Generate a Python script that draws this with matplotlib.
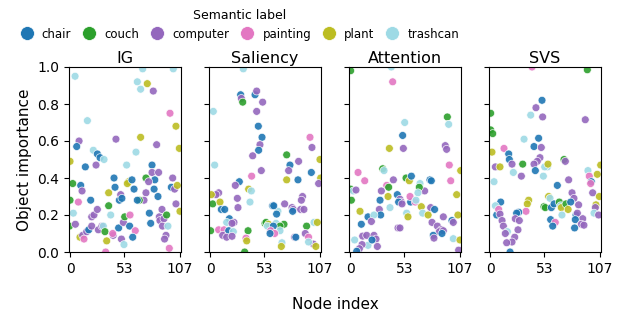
import matplotlib
matplotlib.use("Agg")
import matplotlib.pyplot as plt
from matplotlib.lines import Line2D

label_names = ["chair", "couch", "computer", "painting", "plant", "trashcan"]
label_codes = ["ch", "co", "cp", "pa", "pl", "tr"]
label_colors = ["#1f77b4", "#2ca02c", "#9467bd", "#e377c2", "#bcbd22", "#9edae5"]
panel_titles = ["IG", "Saliency", "Attention", "SVS"]
x_ticks = [0, 53, 107]

ig_idx = [4.9, 16.9, 8.8, 6.5, 0, 2.6, 10.4, 11.7, 0, -0.5, 8.1, 3.2, 5.2, 9.7, 12.3, 13.6, 16.2, 18.2, 14.9, 20.1,
          21.1, 23.3, 26.6, 21.1, 25.3, 22.7, 26.6, 29.2, 33.1, 44.7, 42.8, 43.8, 37.6, 37.6, 39.6, 48, 49.3, 50.5, 27.6, 31,
          32.4, 34, 35.7, 42, 41.5, 47.3, 50, 34.7, 52.5, 51.9, 53.2,
          70.7, 100.5, 65.5, 75.2, 68.7, 81, 97.3, 103.1, 68.7, 84.3, 106.4, 64.2, 55.1, 79.8, 79.8, 86.2, 82.5, 73.9, 76.5, 57,
          55.8, 60.3, 62.3, 81.8, 85.6, 73.9, 72, 67.4, 65.5, 99.9, 98.6, 101.8, 104.4, 103.1, 107, 58.4, 58, 63.5, 61, 77.2,
          78.5, 86.9, 89.5, 87.5, 91.4, 94, 90, 95.3, 93.4, 92, 96.6]
ig_val = [0.95, 0.71, 0.60, 0.57, 0.49, 0.37, 0.36, 0.33, 0.28, 0.14, 0.27, 0.21, 0.15, 0.08, 0.09, 0.07, 0.11, 0.12, 0.46, 0.28,
          0.19, 0.20, 0.23, 0.14, 0.47, 0.55, 0.53, 0.51, 0.50, 0.61, 0.40, 0.35, 0.32, 0.25, 0.20, 0.28, 0.31, 0.29, 0.12, 0.14,
          0.14, 0.11, 0.06, 0.09, 0.10, 0.13, 0.07, 0.0, 0.04, 0.16, 0.19,
          0.99, 0.99, 0.92, 0.91, 0.88, 0.87, 0.75, 0.68, 0.62, 0.58, 0.56, 0.54, 0.47, 0.47, 0.43, 0.43, 0.39, 0.40, 0.38, 0.38,
          0.37, 0.39, 0.34, 0.34, 0.30, 0.32, 0.28, 0.28, 0.28, 0.40, 0.35, 0.34, 0.36, 0.26, 0.22, 0.20, 0.14, 0.115, 0.08, 0.21,
          0.155, 0.19, 0.23, 0.17, 0.18, 0.20, 0.14, 0.14, 0.09, 0.07, 0.02]
ig_lab = ["tr", "tr", "cp", "ch", "pl", "co", "ch", "cp", "co", "co", "pa", "tr", "cp", "pl", "cp", "pa", "cp", "ch", "ch", "ch",
          "cp", "cp", "cp", "cp", "cp", "tr", "ch", "ch", "tr", "cp", "ch", "ch", "pl", "co", "tr", "ch", "cp", "ch", "cp", "cp",
          "tr", "co", "pl", "cp", "pa", "ch", "cp", "pa", "tr", "cp", "co",
          "tr", "tr", "tr", "pl", "tr", "cp", "pa", "pl", "pl", "cp", "pl", "tr", "tr", "ch", "cp", "cp", "ch", "co", "cp", "pl",
          "pl", "ch", "ch", "ch", "ch", "cp", "cp", "co", "ch", "cp", "ch", "cp", "pl", "cp", "pl", "pa", "ch", "pa", "ch", "ch",
          "ch", "cp", "cp", "cp", "cp", "co", "cp", "tr", "cp", "cp", "pa"]

sal_idx = [32.4, 29.8, 30.5, 31.8, 43.8, 45.4, 51.2, 3.2, 45.4, 47, 50.6, 48.6, 47.3, 41.5, 49.9, 4.5, 40.5, 28.5, 24.6, 37.6,
           40.2, 8.4, 5.8, 1.3, 2.6, 26.6, 9.7, 11, 14.3, 27.2, 38.9, 18.8, 16.2, 23.3, 21.4, 0.6, 8.4, 13.6, 18.2, 22.7,
           12.3, 16.2, 21.4, 37, 35, 35.7, 33.7, 53.5,
           97.3, 99.2, 74.6, 86.2, 77.8, 76.5, 107, 98.6, 85.6, 107.7, 105.7, 74.6, 90, 88.9, 60.9, 72.6, 79.8, 81, 80.4, 88.2,
           91.4, 66.1, 64.8, 62, 54.5, 56.9, 55.8, 64.2, 72, 68.1, 68.1, 61.6, 59, 62.9, 58.4, 94, 101.2, 104.4, 92.7, 95.9,
           100.5, 95.9, 103, 82.3, 83.5, 70, 69.4]
sal_val = [0.99, 0.85, 0.83, 0.81, 0.85, 0.87, 0.81, 0.76, 0.76, 0.68, 0.62, 0.58, 0.55, 0.52, 0.44, 0.47, 0.41, 0.38, 0.36, 0.34,
           0.33, 0.32, 0.31, 0.31, 0.26, 0.29, 0.27, 0.23, 0.23, 0.24, 0.27, 0.18, 0.16, 0.16, 0.155, 0.115, 0.12, 0.12, 0.115, 0.11,
           0.09, 0.08, 0.085, 0.115, 0.075, 0.06, 0.0, 0.155,
           0.62, 0.565, 0.525, 0.49, 0.47, 0.44, 0.50, 0.43, 0.39, 0.40, 0.37, 0.39, 0.30, 0.28, 0.25, 0.26, 0.24, 0.23, 0.22, 0.23,
           0.23, 0.22, 0.205, 0.25, 0.16, 0.15, 0.14, 0.155, 0.15, 0.14, 0.115, 0.14, 0.115, 0.10, 0.10, 0.14, 0.16, 0.16, 0.10, 0.08,
           0.043, 0.054, 0.03, 0.08, 0.08, 0.05, 0.03]
sal_lab = ["tr", "ch", "cp", "co", "ch", "cp", "cp", "tr", "cp", "ch", "ch", "cp", "ch", "cp", "cp", "tr", "pa", "ch", "cp", "pl",
           "tr", "cp", "cp", "pl", "co", "cp", "pl", "ch", "ch", "cp", "tr", "ch", "tr", "cp", "cp", "co", "pa", "pa", "ch", "tr",
           "cp", "cp", "cp", "co", "pa", "pl", "co", "co",
           "pa", "cp", "co", "cp", "ch", "cp", "pl", "ch", "ch", "pl", "cp", "pl", "cp", "cp", "ch", "cp", "cp", "cp", "ch", "cp",
           "cp", "tr", "ch", "ch", "co", "pl", "tr", "tr", "co", "co", "tr", "ch", "pa", "pa", "ch", "co", "tr", "pl", "cp", "pa",
           "cp", "tr", "pl", "cp", "ch", "tr", "pl"]

att_idx = [0.6, 40.2, 41.5, 38.3, 7.8, 14.3, 31.8, 33.1, 42.2, 0.6, 3.2, 5.8, 1.3, 35.7, 37.6, 30.5, 37, 29.2, 46, 48.6,
           49.9, 9.7, 28.5, 38.9, 47.3, 29.8, 17.5, 23.3, 20.8, 11, 46.7, 4.5, 12.3, 16.2, 23.3, 25.3, 17.5, 11.7, 9.1, 6.5,
           26.6, 21.4,
           53.2, 51.2, 51.9, 94.7, 96, 92.7, 94, 96.6, 107.7, 98, 54.5, 57.7, 59.7, 77.8, 79.1, 72.6, 68.1, 67.4, 66.1, 103.8,
           59, 58.4, 63.5, 64.2, 50.6, 69.4, 78.5, 82.3, 55.1, 56.4, 70.7, 76, 79.8, 90.8, 105, 99.2, 100.5, 85, 88.9, 87,
           90.8, 89.5, 81, 81.7, 100.5, 107, 105.7, 48.6]
att_val = [0.98, 1.0, 0.92, 0.56, 0.43, 0.385, 0.45, 0.44, 0.39, 0.34, 0.33, 0.335, 0.28, 0.36, 0.35, 0.33, 0.30, 0.28, 0.31, 0.285,
           0.27, 0.22, 0.23, 0.24, 0.27, 0.20, 0.19, 0.20, 0.165, 0.15, 0.13, 0.065, 0.086, 0.09, 0.09, 0.07, 0.036, 0.04, 0.018, 0.004,
           0.03, 0.065,
           0.70, 0.63, 0.56, 0.73, 0.69, 0.575, 0.555, 0.47, 0.44, 0.385, 0.40, 0.385, 0.41, 0.39, 0.385, 0.33, 0.37, 0.35, 0.32, 0.31,
           0.27, 0.30, 0.27, 0.28, 0.26, 0.245, 0.24, 0.23, 0.21, 0.19, 0.21, 0.20, 0.16, 0.19, 0.20, 0.17, 0.16, 0.14, 0.12, 0.11,
           0.115, 0.10, 0.09, 0.075, 0.072, 0.065, 0.01, 0.13]
att_lab = ["co", "tr", "pa", "pl", "pa", "pa", "co", "tr", "cp", "co", "tr", "cp", "co", "pa", "co", "cp", "pl", "ch", "ch", "cp",
           "cp", "pl", "cp", "tr", "ch", "ch", "ch", "tr", "cp", "ch", "cp", "tr", "cp", "cp", "cp", "cp", "tr", "cp", "cp", "ch",
           "cp", "ch",
           "tr", "ch", "cp", "co", "tr", "cp", "cp", "pa", "pl", "pa", "co", "pl", "ch", "ch", "ch", "cp", "tr", "co", "tr", "pl",
           "ch", "pa", "pa", "tr", "cp", "pl", "cp", "ch", "tr", "pl", "tr", "pl", "cp", "cp", "pl", "ch", "cp", "cp", "cp", "cp",
           "cp", "ch", "ch", "cp", "tr", "pl", "cp", "cp"]

svs_idx = [40.9, 0.6, 0.6, 2.6, 50.6, 44.7, 39.6, 51.2, 33.1, 47.3, 1.9, 13.6, 42.8, 49.9, 18.2, 18.8, 48.6, 46, 5.2, 9.7,
           21.4, 31.8, 42.8, 22.7, 44.1, 30.5, 3.9, 10.4, 5.2, 37.6, 36.3, 35, 27.9, 25.9, 6.5, 8.4, 9.7, 24.6, 11.7, 28.5,
           13, 16.9, 14.9, 27.2, 24, 21.4, 16.2, 19.5, 52.5, 51.9,
           94.7, 92.7, 72, 73.3, 55.8, 53.2, 56.4, 95.3, 107.7, 96.6, 104.4, 98.6, 97.9, 76.5, 65.5, 99.9, 106.4, 57, 58.4, 79.8,
           81.7, 86.2, 53.8, 59.7, 62.3, 67.4, 68.7, 69.4, 73.9, 78.5, 70, 76, 83.7, 85, 90.2, 83, 88.9, 91.4, 103.1, 102.5,
           101.2, 105.7, 59, 63.5, 61, 82.3]
svs_val = [1.0, 0.75, 0.66, 0.64, 0.82, 0.78, 0.74, 0.73, 0.61, 0.615, 0.54, 0.56, 0.57, 0.565, 0.53, 0.50, 0.51, 0.49, 0.46, 0.46,
           0.475, 0.475, 0.475, 0.43, 0.44, 0.41, 0.38, 0.27, 0.25, 0.28, 0.26, 0.22, 0.215, 0.21, 0.20, 0.23, 0.205, 0.18, 0.17, 0.17,
           0.14, 0.11, 0.10, 0.12, 0.08, 0.054, 0.05, 0.0, 0.245, 0.41,
           0.985, 0.715, 0.50, 0.49, 0.46, 0.46, 0.475, 0.44, 0.47, 0.41, 0.42, 0.38, 0.37, 0.39, 0.36, 0.32, 0.30, 0.30, 0.29, 0.32,
           0.29, 0.255, 0.24, 0.24, 0.26, 0.27, 0.25, 0.24, 0.26, 0.27, 0.20, 0.23, 0.20, 0.21, 0.18, 0.175, 0.15, 0.145, 0.255, 0.24,
           0.21, 0.20, 0.175, 0.16, 0.14, 0.13]
svs_lab = ["pa", "co", "co", "co", "ch", "cp", "tr", "cp", "tr", "ch", "pl", "pa", "ch", "cp", "ch", "ch", "cp", "cp", "cp", "pl",
           "cp", "co", "cp", "tr", "ch", "cp", "tr", "ch", "tr", "pl", "pl", "pa", "ch", "ch", "ch", "pa", "cp", "cp", "cp", "cp",
           "cp", "tr", "cp", "cp", "cp", "cp", "cp", "ch", "co", "tr",
           "co", "cp", "co", "cp", "tr", "tr", "pl", "tr", "pl", "pa", "pl", "ch", "pa", "cp", "ch", "cp", "pl", "pl", "tr", "cp",
           "cp", "cp", "co", "ch", "ch", "co", "tr", "pl", "co", "ch", "tr", "pl", "ch", "cp", "cp", "ch", "cp", "cp", "pl", "cp",
           "tr", "cp", "ch", "pa", "ch", "ch"]

panels = [(ig_idx, ig_val, ig_lab), (sal_idx, sal_val, sal_lab),
          (att_idx, att_val, att_lab), (svs_idx, svs_val, svs_lab)]
color_of = dict(zip(label_codes, label_colors))

W, H = 631, 322
fig = plt.figure(figsize=(W / 100, H / 100), dpi=100)
lefts = [69, 209, 349, 489]
axw = 112
bottom_px, top_px = 252, 67
axes = []
for i, (xs, ys, labs) in enumerate(panels):
    ax = fig.add_axes([lefts[i] / W, 1 - bottom_px / H, axw / W, (bottom_px - top_px) / H])
    axes.append(ax)
    ax.scatter(xs, ys, c=[color_of[l] for l in labs], s=32, edgecolors="white",
               linewidths=0.5, alpha=0.9, zorder=2)
    ax.set_xlim(-1, 108)
    ax.set_ylim(0, 1.0)
    ax.set_xticks(x_ticks)
    ax.set_yticks([0, 0.2, 0.4, 0.6, 0.8, 1.0])
    ax.tick_params(labelsize=10)
    ax.set_title(panel_titles[i], fontsize=11.5, pad=3)
    if i > 0:
        ax.set_yticklabels([])
axes[0].set_ylabel("Object importance", fontsize=11, labelpad=4)

fig.text((69 + 601) / 2 / W, 0.03, "Node index", ha="center", va="bottom", fontsize=11)

handles = [Line2D([0], [0], marker="o", linestyle="", markersize=10,
                  markerfacecolor=c, markeredgecolor="white", markeredgewidth=0.5)
           for c in label_colors]
fig.legend(handles, label_names, title="Semantic label", loc="upper center",
           bbox_to_anchor=(240 / W, 0.995), ncol=6, frameon=False, fontsize=8.5,
           title_fontsize=9, handlelength=1.0, handletextpad=0.8, columnspacing=1.0,
           borderaxespad=0.2)

fig.savefig("out.png", dpi=100)
